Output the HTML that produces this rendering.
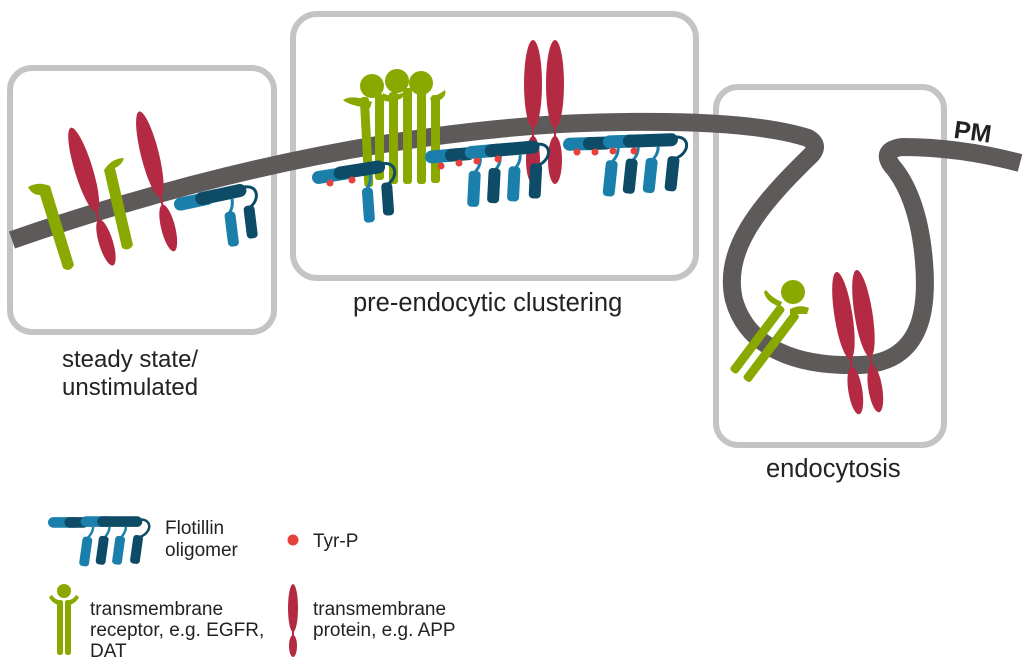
<!DOCTYPE html>
<html><head><meta charset="utf-8"><style>
html,body{margin:0;padding:0;background:#fff;}
svg{display:block;}
text{font-family:"Liberation Sans",sans-serif;fill:#222;}
</style></head><body>
<svg width="1024" height="665" viewBox="0 0 1024 665" xmlns="http://www.w3.org/2000/svg">
<defs>
  <g id="flo2">
    <rect x="0" y="-6" width="40" height="13" rx="6.5" fill="#1b7fab"/>
    <rect x="22" y="-7" width="52" height="13" rx="6.5" fill="#0d4b67"/>
    <path d="M72,-3 C86,-3 86,12 74,18" stroke="#0d4b67" stroke-width="3" fill="none"/>
    <path d="M58,6 C58,12 56,16 52,20" stroke="#1b7fab" stroke-width="3" fill="none"/>
    <rect x="46" y="18" width="11" height="35" rx="4" fill="#1b7fab" transform="rotate(5 51 35)"/>
    <rect x="66" y="16" width="11" height="33" rx="4" fill="#0d4b67" transform="rotate(5 71 32)"/>
  </g>
  <g id="flo4">
    <rect x="0" y="-6" width="40" height="13" rx="6.5" fill="#1b7fab"/>
    <rect x="20" y="-6" width="30" height="13" rx="6.5" fill="#0d4b67"/>
    <rect x="40" y="-7" width="40" height="13" rx="6.5" fill="#1b7fab"/>
    <rect x="60" y="-7" width="55" height="13" rx="6.5" fill="#0d4b67"/>
    <path d="M113,-3 C127,-3 127,12 113,18" stroke="#0d4b67" stroke-width="3" fill="none"/>
    <path d="M55,6 C55,12 52,16 48,20 M75,6 C75,12 72,16 68,20 M95,6 C95,12 92,16 88,20" stroke="#1b7fab" stroke-width="3" fill="none"/>
    <rect x="40" y="18" width="12" height="36" rx="4" fill="#1b7fab" transform="rotate(8 46 36)"/>
    <rect x="60" y="17" width="12" height="35" rx="4" fill="#0d4b67" transform="rotate(8 66 35)"/>
    <rect x="80" y="17" width="12" height="35" rx="4" fill="#1b7fab" transform="rotate(8 86 35)"/>
    <rect x="102" y="16" width="12" height="35" rx="4" fill="#0d4b67" transform="rotate(8 108 33)"/>
  </g>
  <g id="redp">
    <ellipse cx="0" cy="-42" rx="9" ry="44" fill="#b42a42"/>
    <rect x="-1" y="0" width="2" height="14" fill="#b42a42"/>
    <ellipse cx="0" cy="34" rx="7" ry="24" fill="#b42a42"/>
  </g>
</defs>

<rect x="10" y="68" width="264" height="264" rx="22" fill="none" stroke="#c4c4c4" stroke-width="6"/>
<rect x="293" y="14" width="403" height="264" rx="24" fill="none" stroke="#c4c4c4" stroke-width="6"/>
<rect x="716" y="87" width="228" height="358" rx="22" fill="none" stroke="#c4c4c4" stroke-width="6"/>

<path d="M12,240 Q300,140 560,124 Q740,116 808,138 Q822,146 808,158 C760,205 722,250 734,300 C748,350 800,367 860,365 C922,362 928,310 924,262 C920,212 906,182 892,166 Q880,150 902,147 Q960,147 1020,163" fill="none" stroke="#5f5a5a" stroke-width="18" stroke-linejoin="round"/>

<g fill="#89a800">
  <path d="M28,187 Q38,181 50,186 L74,265 Q70,273 63,268 L40,195 Q32,195 28,187 Z"/>
  <path d="M124,158 Q122,165 115,168 L133,245 Q129,252 122,248 L104,170 Q112,158 124,158 Z"/>
</g>
<g transform="translate(96,210) rotate(-17)"><use href="#redp"/></g>
<g transform="translate(160,195) rotate(-14)"><use href="#redp"/></g>
<g transform="translate(174,205) rotate(-12)"><use href="#flo2"/></g>

<g fill="#89a800">
  <rect x="362" y="97" width="9" height="90" rx="3" transform="rotate(-3 366 140)"/>
  <rect x="375" y="94" width="9" height="86" rx="3"/>
  <rect x="389" y="92" width="9" height="92" rx="3"/>
  <rect x="403" y="88" width="9" height="96" rx="3"/>
  <rect x="417" y="90" width="9" height="94" rx="3"/>
  <rect x="431" y="95" width="9" height="88" rx="3"/>
  <circle cx="372" cy="86" r="12"/><circle cx="397" cy="81" r="12"/><circle cx="421" cy="83" r="12"/>
  <path d="M343,100 Q352,94 372,102 L370,108 Q350,106 343,100 Z"/>
  <path d="M445,90 Q448,98 432,104 L430,98 Q440,94 445,90 Z"/>
  <path d="M383,93 Q390,98 405,92 L402,98 Q390,104 383,100 Z"/>
</g>
<g transform="translate(533,126)"><use href="#redp"/></g>
<g transform="translate(555,126)"><use href="#redp"/></g>
<g transform="translate(312,178) rotate(-9)"><use href="#flo2"/></g>
<g transform="translate(425,157) rotate(-5)"><use href="#flo4"/></g>
<g transform="translate(563,144) rotate(-2)"><use href="#flo4"/></g>
<g fill="#e8403a">
  <circle cx="330" cy="183" r="3.5"/><circle cx="352" cy="180" r="3.5"/>
  <circle cx="441" cy="166" r="3.5"/><circle cx="459" cy="163" r="3.5"/><circle cx="477" cy="161" r="3.5"/><circle cx="498" cy="159" r="3.5"/>
  <circle cx="577" cy="152" r="3.5"/><circle cx="595" cy="152" r="3.5"/><circle cx="613" cy="151" r="3.5"/><circle cx="634" cy="151" r="3.5"/>
</g>

<g fill="#89a800">
  <rect x="753" y="298" width="9" height="82" rx="3" transform="rotate(37 757 339)"/>
  <rect x="767" y="304" width="9" height="84" rx="3" transform="rotate(37 770 346)"/>
  <circle cx="793" cy="292" r="12"/>
  <path d="M766,290 Q772,298 782,302 L780,307 Q766,302 764,292 Z"/>
  <path d="M790,309 Q800,304 809,308 L807,314 Q798,314 790,314 Z"/>
</g>
<g transform="translate(850,357) rotate(-9)"><use href="#redp"/></g>
<g transform="translate(870,355) rotate(-9)"><use href="#redp"/></g>

<text x="62" y="367" font-size="24">steady state/</text>
<text x="62" y="395" font-size="24">unstimulated</text>
<text x="353" y="311" font-size="25.5">pre-endocytic clustering</text>
<text x="766" y="477" font-size="25.5">endocytosis</text>
<text x="954" y="141" font-size="25" font-weight="bold" transform="rotate(8 978 132)">PM</text>

<g transform="translate(48,522) scale(0.82)"><use href="#flo4"/></g>
<text x="165" y="534" font-size="19">Flotillin</text>
<text x="165" y="556" font-size="19">oligomer</text>
<circle cx="293" cy="540" r="5.5" fill="#e8403a"/>
<text x="313" y="547" font-size="19">Tyr-P</text>
<g fill="#89a800">
  <circle cx="64" cy="591" r="7"/>
  <rect x="57" y="600" width="6" height="55" rx="2.5"/>
  <rect x="65" y="600" width="6" height="55" rx="2.5"/>
  <path d="M49,597 Q52,604 62,606 L62,601 Q55,600 52,595 Z M79,597 Q76,604 66,606 L66,601 Q73,600 76,595 Z"/>
</g>
<text x="90" y="615" font-size="19">transmembrane</text>
<text x="90" y="636" font-size="19">receptor, e.g. EGFR,</text>
<text x="90" y="657" font-size="19">DAT</text>
<ellipse cx="293" cy="608" rx="5" ry="24" fill="#b42a42"/>
<rect x="292" y="628" width="2" height="10" fill="#b42a42"/>
<ellipse cx="293" cy="646" rx="4" ry="11" fill="#b42a42"/>
<text x="313" y="615" font-size="19">transmembrane</text>
<text x="313" y="636" font-size="19">protein, e.g. APP</text>
</svg>
</body></html>
